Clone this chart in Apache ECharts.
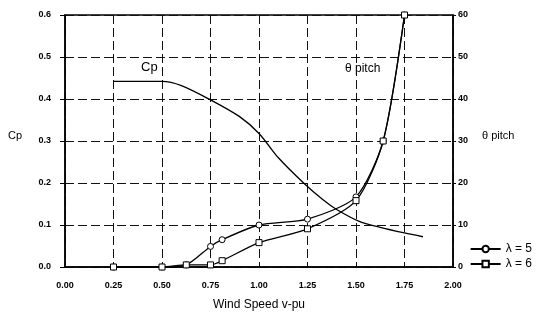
<!DOCTYPE html>
<html><head><meta charset="utf-8">
<script src="https://cdn.jsdelivr.net/npm/echarts@6/dist/echarts.min.js"></script>
<style>html,body{margin:0;padding:0;background:#fff}#c{width:537px;height:316px}</style>
</head><body><div id="c"></div>
<script>
// Cp curve
const cpX = [0.25, 0.5, 0.6, 0.75, 0.9, 1.0, 1.1, 1.23, 1.33, 1.4, 1.52, 1.62, 1.75, 1.845];
const cpY = [0.442, 0.442, 0.432, 0.398, 0.358, 0.318, 0.26, 0.2, 0.16, 0.137, 0.108, 0.095, 0.081, 0.072];
// pitch, lambda = 5
const l5X = [0.25, 0.5, 0.625, 0.75, 0.81, 1.0, 1.25, 1.5, 1.64, 1.75];
const l5Y = [0, 0, 0.5, 4.9, 6.5, 10, 11.4, 16.7, 30, 60];
// pitch, lambda = 6
const l6X = [0.25, 0.5, 0.625, 0.75, 0.81, 1.0, 1.25, 1.5, 1.64, 1.75];
const l6Y = [0, 0, 0.5, 0.5, 1.5, 5.8, 9.1, 15.8, 30, 60];
const seriesNames = ['Cp', 'λ = 5', 'λ = 6'];

const zip = (a, b) => a.map((v, i) => [v, b[i]]);
const FONT = 'Liberation Sans';
const dash = {type: [9, 4], color: '#111', width: 1};

const chart = echarts.init(document.getElementById('c'), null, {renderer: 'canvas'});
chart.setOption({
  animation: false,
  textStyle: {fontFamily: FONT, color: '#000'},
  grid: {left: 65, right: 84, top: 15, bottom: 44, show: true, borderColor: '#000', borderWidth: 1.5, backgroundColor: 'transparent'},
  xAxis: {
    type: 'value', min: 0, max: 2, interval: 0.25,
    name: 'Wind Speed v-pu', nameLocation: 'middle', nameGap: 32,
    nameTextStyle: {fontSize: 12, fontFamily: FONT, color: '#000'},
    axisLine: {show: true, lineStyle: {color: '#000', width: 1.5}},
    axisTick: {show: false},
    axisLabel: {fontSize: 9, fontWeight: 'bold', color: '#000', margin: 14, formatter: v => v.toFixed(2)},
    splitLine: {show: true, lineStyle: dash}
  },
  yAxis: [{
    type: 'value', min: 0, max: 0.6, interval: 0.1, position: 'left',
    name: 'Cp', nameLocation: 'middle', nameRotate: 0, nameGap: 43,
    nameTextStyle: {fontSize: 11, fontFamily: FONT, color: '#000', verticalAlign: 'bottom'},
    axisLine: {show: true, lineStyle: {color: '#000', width: 1.5}},
    axisTick: {show: true, inside: false, length: 5, lineStyle: {color: '#000'}},
    axisLabel: {fontSize: 9, fontWeight: 'bold', color: '#000', margin: 14, formatter: v => v.toFixed(1)},
    splitLine: {show: true, lineStyle: dash}
  }, {
    type: 'value', min: 0, max: 60, interval: 10, position: 'right',
    name: 'θ pitch', nameLocation: 'middle', nameRotate: 0, nameGap: 29,
    nameTextStyle: {fontSize: 11, fontFamily: FONT, color: '#000', verticalAlign: 'bottom', align: 'left'},
    axisLine: {show: true, lineStyle: {color: '#000', width: 1.5}},
    axisTick: {show: true, inside: false, length: 3, lineStyle: {color: '#000'}},
    axisLabel: {fontSize: 9, fontWeight: 'bold', color: '#000', margin: 5},
    splitLine: {show: false}
  }],
  legend: {
    orient: 'vertical', right: 0, top: 238, itemGap: 3, itemWidth: 30, itemHeight: 8,
    data: [seriesNames[1], seriesNames[2]],
    textStyle: {fontSize: 12, fontFamily: FONT, color: '#000'}
  },
  graphic: [
    {type: 'text', left: 141, top: 61, style: {text: 'Cp', font: '13px "Liberation Sans"', fill: '#000'}},
    {type: 'text', left: 345, top: 63, style: {text: 'θ pitch', font: '12px "Liberation Sans"', fill: '#000'}}
  ],
  series: [{
    name: seriesNames[0], type: 'line', yAxisIndex: 0, data: zip(cpX, cpY), smooth: 0.3,
    showSymbol: false, lineStyle: {color: '#000', width: 1.3}, z: 3
  }, {
    name: seriesNames[1], type: 'line', yAxisIndex: 1, data: zip(l5X, l5Y), smooth: 0.25,
    symbol: 'circle', symbolSize: 6, itemStyle: {color: '#fff', borderColor: '#000', borderWidth: 1},
    lineStyle: {color: '#000', width: 1.3}, z: 4
  }, {
    name: seriesNames[2], type: 'line', yAxisIndex: 1, data: zip(l6X, l6Y), smooth: 0.25,
    symbol: 'rect', symbolSize: 6, itemStyle: {color: '#fff', borderColor: '#000', borderWidth: 1},
    lineStyle: {color: '#000', width: 1.3}, z: 4
  }]
});
</script></body></html>
